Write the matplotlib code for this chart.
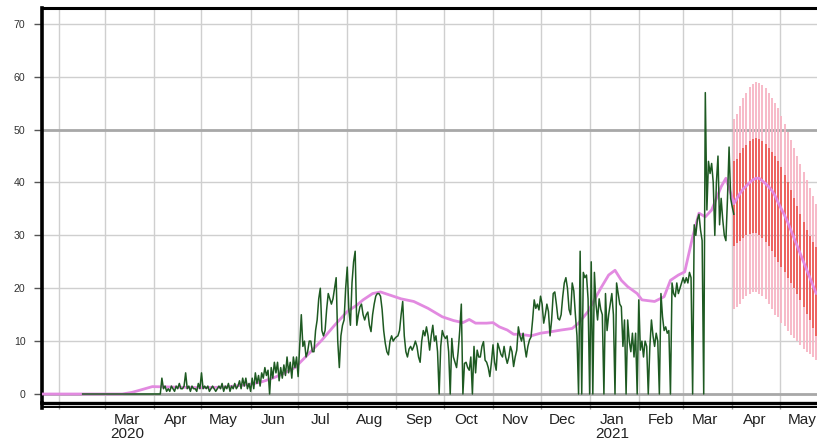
import numpy as np
import matplotlib
matplotlib.use("Agg")
import matplotlib.pyplot as plt
import matplotlib.dates as mdates
from matplotlib.lines import Line2D

plt.rcParams['font.family'] = ['Liberation Sans', 'DejaVu Sans']

# ---------------- daily reported cases ----------------
cases_start = "2020-02-16"
cases_feb20 = [0, 0, 0, 0, 0, 0, 0, 0, 0, 0, 0, 0, 0, 0]
cases_mar20 = [0, 0, 0, 0, 0, 0, 0, 0, 0, 0, 0, 0, 0, 0, 0, 0,
               0, 0, 0, 0, 0, 0, 0, 0, 0, 0, 0, 0, 0, 0, 0]
cases_apr20 = [0, 0, 0, 0, 0, 3, 1, 1.5, 0.5, 1, 0.5, 1.5, 1, 0.5, 1.5,
               1, 2, 1, 1, 1.5, 4, 1, 1.5, 0.5, 1.5, 1, 1, 0.5, 2, 1]
cases_may20 = [4, 1, 1.5, 1, 1.5, 0.5, 1, 1.5, 1, 0.5, 1, 1.5, 1, 2, 0.5,
               1.5, 1, 2, 0.5, 1.5, 1, 2, 1, 1.5, 2.5, 1, 3, 1.5, 3, 1, 2]
cases_jun20 = [0.5, 3, 1, 4, 2, 3.5, 1.5, 4, 3, 5, 3.5, 4.5, 0, 5, 3,
               6, 4, 6, 2.5, 5, 3, 5.5, 3.5, 7, 4, 6, 3, 7, 5, 7]
cases_jul20 = [3.3, 9, 15, 9, 10, 7, 8, 10, 10, 8, 8, 12, 14, 18, 20,
               12, 11, 12, 16, 19, 18, 17, 18, 20, 22, 10, 5, 11, 13, 14, 20]
cases_aug20 = [24, 16, 13, 21, 25, 27, 13, 15, 16.5, 17, 15, 14, 15, 15.5, 13,
               11.8, 15, 17, 18.5, 19, 19, 18.5, 16, 12, 9.6, 8, 7.4, 10, 11, 10, 10.5]
cases_sep20 = [10.8, 11, 12, 15, 17.5, 11, 8, 7, 8.5, 9, 8.3, 9, 10, 9, 7,
               6, 10, 12, 11, 12.7, 11, 8.3, 11, 13, 10, 11, 8, 0, 9, 12]
cases_oct20 = [11, 10.5, 11, 8, 0, 10.5, 7, 6, 5, 8, 12, 17, 0, 5.8, 6,
               5, 4.5, 7, 0, 9, 4, 8.3, 7, 7, 9, 9.9, 6.4, 6, 5, 3.3, 6]
cases_nov20 = [9.3, 6, 4.5, 9.6, 8.6, 7.5, 7, 9, 7, 5.8, 7, 9, 8, 5.2, 7,
               8.3, 12.7, 11, 10, 11.5, 9, 7, 9, 10.2, 10.8, 14, 17.8, 16.2, 17, 15.9]
cases_dec20 = [18.5, 17, 13.4, 15, 17, 15.6, 11, 14, 19, 19.3, 17, 14.3, 14, 15, 18.4,
               21, 22, 20, 16, 15, 21, 19.5, 15, 11, 0, 27, 0, 23, 22, 22.5, 18]
cases_jan21 = [0, 25, 0, 23, 17, 14, 18, 16, 15, 0, 19, 12, 15, 17, 19,
               15, 0, 21, 19, 17, 16.5, 9, 14, 0, 14, 10, 8, 11.5, 7, 11.5, 0]
cases_feb21 = [17.8, 8.3, 10, 7, 10, 9, 0, 9, 14, 11, 9, 11.5, 10, 0,
               19, 14.6, 12, 12.7, 11.5, 12, 0, 21, 19, 18.4, 21, 19, 20, 21]
cases_mar21 = [22, 21, 22, 21, 23, 22, 0, 32, 30, 33, 34, 31, 29, 0, 57,
               34.8, 44, 41.7, 43.6, 40, 30, 40, 45, 32, 37, 33, 30, 29, 37, 46.7, 37]
cases_apr21 = [35.4, 34]

# ---------------- smoothed trend ----------------
trend_dates = ["2020-01-21", "2020-03-12", "2020-03-18", "2020-03-24", "2020-03-31",
               "2020-04-15", "2020-05-01", "2020-05-15", "2020-05-31", "2020-06-08",
               "2020-06-15", "2020-06-22", "2020-06-29", "2020-07-07", "2020-07-16",
               "2020-07-24", "2020-08-01", "2020-08-07", "2020-08-11", "2020-08-17",
               "2020-08-22", "2020-08-28", "2020-09-04", "2020-09-12", "2020-09-21",
               "2020-09-30", "2020-10-07", "2020-10-13", "2020-10-17", "2020-10-21",
               "2020-10-28", "2020-11-01", "2020-11-05", "2020-11-10", "2020-11-14",
               "2020-11-18", "2020-11-25", "2020-12-01", "2020-12-08", "2020-12-14",
               "2020-12-21", "2020-12-25", "2020-12-31", "2021-01-08", "2021-01-13",
               "2021-01-17", "2021-01-21", "2021-01-25", "2021-01-31", "2021-02-03",
               "2021-02-11", "2021-02-17", "2021-02-21", "2021-02-26", "2021-03-02",
               "2021-03-07", "2021-03-11", "2021-03-15", "2021-03-19", "2021-03-25",
               "2021-03-28", "2021-03-31"]
trend_values = [0, 0, 0.3, 0.8, 1.4,
                1.3, 1.2, 1.3, 1.8, 2.3,
                3, 3.9, 5, 7.4, 10.2,
                13, 15.6, 16.8, 17.8, 19,
                19.3, 18.7, 18, 17.5, 16.2,
                14.6, 13.9, 13.5, 14.1, 13.4,
                13.4, 13.5, 12.7, 12.1, 11.3,
                11.3, 11, 11.5, 11.8, 12.1,
                12.4, 13.4, 15.6, 20, 22.5,
                23.4, 21.5, 20.3, 19, 17.8,
                17.5, 18.4, 21.5, 22.5, 23.1,
                29.7, 34.2, 33.5, 34.8, 39.2,
                40.8, 38]

# ---------------- projection ----------------
proj_start = "2021-04-02"
proj_median = [36, 37, 38, 38.8, 39.4, 40, 40.5, 40.8, 40.8, 40.3, 39.8, 39.2, 38.5, 37.5,
               36.2, 35, 33.8, 32.5, 31, 29.5, 28, 26.5, 25, 23.5, 22, 20.5, 19]
proj_outer_hi = [52, 53, 54.5, 56, 57, 58, 58.7, 59, 58.8, 58.5, 57.8, 57, 56, 55,
                 54, 52.5, 51, 49.5, 48, 46.5, 45, 43.5, 42, 40.5, 39, 37.5, 36]
proj_outer_lo = [16, 16.5, 17, 18, 18.5, 19, 19.2, 19.3, 19, 18.5, 18, 17, 16, 15,
                 14.5, 13.5, 12.8, 12, 11.2, 10.5, 10, 9.2, 8.5, 8, 7.5, 7, 6.5]
proj_inner_hi = [44, 44.5, 45.5, 46.5, 47, 47.8, 48.2, 48.4, 48.2, 47.8, 47.2, 46.5, 45.8, 45,
                 44, 43, 41.5, 40, 38.5, 37, 35.5, 34, 32.5, 31, 29.8, 28.8, 27.8]
proj_inner_lo = [28, 28.5, 29, 29.5, 30, 30.3, 30.5, 30.4, 30, 29.5, 28.8, 28, 27, 26,
                 25, 24, 23, 22, 21, 20, 19, 17.8, 16.5, 15.2, 14, 12.5, 11]

month_names = ["Mar\n2020", "Apr", "May", "Jun", "Jul", "Aug", "Sep", "Oct", "Nov",
               "Dec", "Jan\n2021", "Feb", "Mar", "Apr", "May"]

# ---------------- assemble series ----------------
cases = np.array(cases_feb20 + cases_mar20 + cases_apr20 + cases_may20 + cases_jun20 +
                 cases_jul20 + cases_aug20 + cases_sep20 + cases_oct20 + cases_nov20 +
                 cases_dec20 + cases_jan21 + cases_feb21 + cases_mar21 + cases_apr21, dtype=float)
case_dates = np.datetime64(cases_start) + np.arange(len(cases)).astype("timedelta64[D]")

trend_d = np.array(trend_dates, dtype="datetime64[D]")
proj_dates = np.datetime64(proj_start) + (2 * np.arange(len(proj_median))).astype("timedelta64[D]")

W, H = 817, 443
fig = plt.figure(figsize=(W / 100, H / 100), dpi=100)
left_px, top_px, bottom_px = 42, 8, 403
ax = fig.add_axes([left_px / W, 1 - bottom_px / H, 1 - left_px / W, (bottom_px - top_px) / H])

# projection bands
ax.vlines(proj_dates, proj_outer_lo, proj_outer_hi, color="#f7b4c4", lw=1.3, zorder=2)
ax.vlines(proj_dates, proj_inner_lo, proj_inner_hi, color="#ec5b58", lw=1.3, zorder=3)

# reference lines
ax.axhline(0, color="#a8a8a8", lw=2.0, zorder=1.5)
ax.axhline(50, color="#a8a8a8", lw=2.0, zorder=1.5)

# smoothed trend and projection median
ax.plot(np.concatenate([trend_d, proj_dates]), trend_values + proj_median,
        color="#e28ae0", lw=2.0, zorder=4, solid_capstyle="round")
# daily cases
ax.plot(case_dates, cases, color="#1e5a22", lw=1.1, zorder=5)

ax.set_xlim(np.datetime64("2020-01-21T08:00"), np.datetime64("2021-05-24T12:00"))
ax.set_ylim(-1.7, 73.0)

ax.set_yticks(np.arange(0, 71, 10))
ax.tick_params(axis="y", which="major", length=6, width=1, color="#555555",
               labelsize=7.6, labelcolor="#333333", pad=6)

month_starts = np.arange(np.datetime64("2020-02"), np.datetime64("2021-06"),
                         dtype="datetime64[M]").astype("datetime64[D]")
mid_months = np.arange(np.datetime64("2020-03"), np.datetime64("2021-06"),
                       dtype="datetime64[M]").astype("datetime64[D]") + np.timedelta64(14, "D")
ax.set_xticks(mdates.date2num(month_starts))
ax.set_xticklabels([])
ax.set_xticks(mdates.date2num(mid_months), minor=True)
ax.set_xticklabels(month_names, minor=True, fontsize=11, color="#222222", linespacing=0.95)
ax.tick_params(axis="x", which="major", length=4, width=1, color="#999999")
ax.tick_params(axis="x", which="minor", length=0, pad=7.5)

ax.grid(True, which="major", color="#cfcfcf", lw=1.0, zorder=0)
ax.set_axisbelow(True)

ax.spines["right"].set_visible(False)
ax.spines["left"].set_linewidth(2.6)
ax.spines["top"].set_linewidth(2.2)
ax.spines["bottom"].set_linewidth(2.4)
for s in ("left", "top", "bottom"):
    ax.spines[s].set_color("black")

# second rule below the x axis and spine extension
y2 = 1 - 407 / H
fig.add_artist(Line2D([left_px / W, 1.0], [y2, y2], color="black", lw=1.4))
fig.add_artist(Line2D([left_px / W, left_px / W], [y2 - 0.002, 1 - bottom_px / H],
                      color="black", lw=2.6))

fig.savefig("out.png", dpi=100)
